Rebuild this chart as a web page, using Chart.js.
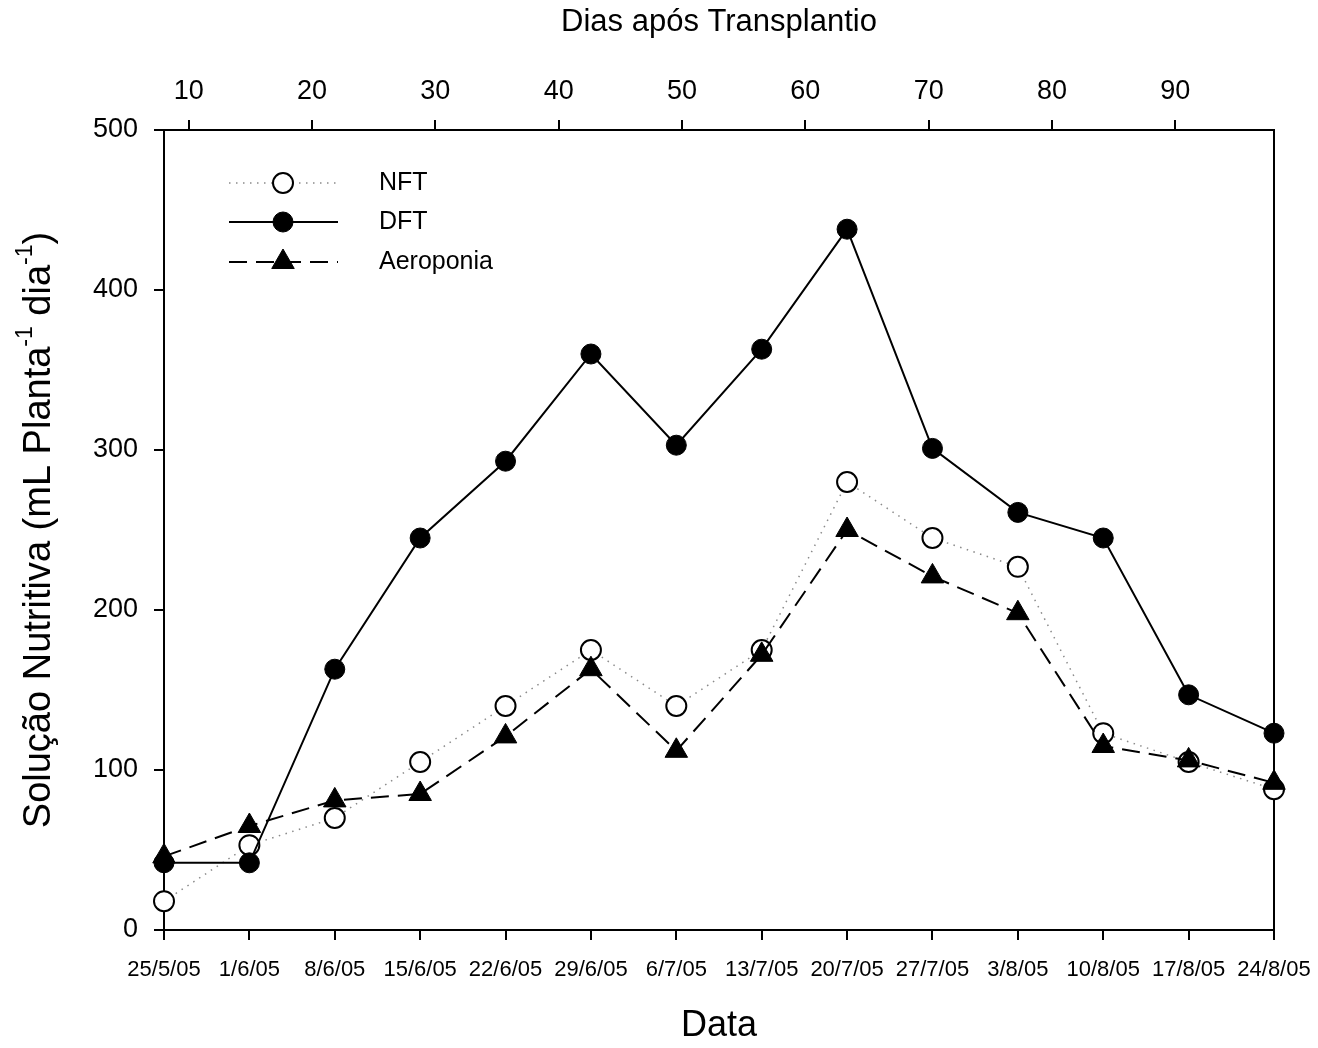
<!DOCTYPE html>
<html>
<head>
<meta charset="utf-8">
<script src="https://cdn.jsdelivr.net/npm/chart.js@4.4.0/dist/chart.umd.min.js"></script>
<style>
  html, body { margin: 0; padding: 0; background: #fff; }
</style>
</head>
<body>
<canvas id="myChart1" width="1318" height="1048"></canvas>
<script>

let myChart1 = document.getElementById("myChart1").getContext('2d');

let datas = ['25/5/05', '1/6/05', '8/6/05', '15/6/05', '22/6/05', '29/6/05', '6/7/05',
             '13/7/05', '20/7/05', '27/7/05', '3/8/05', '10/8/05', '17/8/05', '24/8/05'];
let diasTicks = [10, 20, 30, 40, 50, 60, 70, 80, 90];
let yTicks = [0, 100, 200, 300, 400, 500];

let nft = [18, 53, 70, 105, 140, 175, 140, 175, 280, 245, 227, 123, 105, 88];
let dft = [42, 42, 163, 245, 293, 360, 303, 363, 438, 301, 261, 245, 147, 123];
let aeroponia = [46, 65, 81, 85, 121, 163, 112, 172, 250, 221, 198, 115, 106, 92];

const fonte = "'Liberation Sans', Arial, sans-serif";

// legenda desenhada dentro da area do grafico
const legendaInterna = {
  id: 'legendaInterna',
  afterDatasetsDraw(chart) {
    const ctx = chart.ctx;
    const linhas = [183, 222, 262];
    chart.data.datasets.forEach((ds, i) => {
      const y = linhas[i];
      ctx.save();
      ctx.strokeStyle = ds.borderColor;
      ctx.lineWidth = ds.borderWidth;
      ctx.setLineDash(ds.borderDash || []);
      ctx.beginPath();
      ctx.moveTo(229, y);
      ctx.lineTo(338, y);
      ctx.stroke();
      ctx.setLineDash([]);
      ctx.fillStyle = ds.pointBackgroundColor;
      ctx.strokeStyle = ds.pointBorderColor;
      ctx.lineWidth = ds.pointBorderWidth;
      Chart.helpers.drawPoint(ctx, {
        pointStyle: ds.pointStyle, radius: ds.pointRadius,
        rotation: 0, borderWidth: ds.pointBorderWidth
      }, 283, y);
      ctx.fillStyle = '#000';
      ctx.font = '25px ' + fonte;
      ctx.textBaseline = 'middle';
      ctx.textAlign = 'left';
      ctx.fillText(ds.label, 379, y);
      ctx.restore();
    });
  }
};

// titulo do eixo y com expoentes
const tituloY = {
  id: 'tituloY',
  afterDraw(chart) {
    const ctx = chart.ctx;
    const a = chart.chartArea;
    const partes = [
      ['Solução Nutritiva (mL Planta', false],
      ['-1', true],
      [' dia', false],
      ['-1', true],
      [')', false]
    ];
    const fNormal = '38px ' + fonte;
    const fSup = '23px ' + fonte;
    ctx.save();
    let total = 0;
    partes.forEach(p => { ctx.font = p[1] ? fSup : fNormal; total += ctx.measureText(p[0]).width; });
    ctx.translate(40, (a.top + a.bottom) / 2);
    ctx.rotate(-Math.PI / 2);
    ctx.fillStyle = '#000';
    ctx.textBaseline = 'middle';
    ctx.textAlign = 'left';
    let x = -total / 2;
    partes.forEach(p => {
      ctx.font = p[1] ? fSup : fNormal;
      ctx.fillText(p[0], x, p[1] ? -14 : 0);
      x += ctx.measureText(p[0]).width;
    });
    ctx.restore();
  }
};

const eixo = {
  border: { display: true, color: '#000', width: 2 },
  grid: { drawOnChartArea: false, color: '#000', tickColor: '#000', tickLength: 10, lineWidth: 2 }
};

// sem folga extra para os rotulos nas pontas do eixo
const semFolga = s => { s.paddingLeft = 0; s.paddingRight = 0; };

let chart1 = new Chart(myChart1, {
  type: 'line',
  data: {
    labels: datas,
    datasets: [
      {
        label: 'NFT',
        data: nft,
        order: 3,
        borderColor: '#8a8a8a',
        borderWidth: 1.5,
        borderDash: [1.5, 5.5],
        pointStyle: 'circle',
        pointRadius: 10,
        pointBorderWidth: 2,
        pointBorderColor: '#000',
        pointBackgroundColor: '#fff'
      },
      {
        label: 'DFT',
        data: dft,
        order: 2,
        borderColor: '#000',
        borderWidth: 2,
        pointStyle: 'circle',
        pointRadius: 10,
        pointBorderWidth: 1,
        pointBorderColor: '#000',
        pointBackgroundColor: '#000'
      },
      {
        label: 'Aeroponia',
        data: aeroponia,
        order: 1,
        borderColor: '#000',
        borderWidth: 2,
        borderDash: [18, 9],
        pointStyle: 'triangle',
        pointRadius: 13,
        pointBorderWidth: 1,
        pointBorderColor: '#000',
        pointBackgroundColor: '#000'
      }
    ].map(d => Object.assign({ fill: false, tension: 0, clip: false, pointHoverRadius: d.pointRadius }, d))
  },
  options: {
    responsive: false,
    animation: false,
    layout: { padding: 0 },
    plugins: {
      legend: { display: false },
      tooltip: { enabled: false }
    },
    scales: {
      x: {
        type: 'category',
        position: 'bottom',
        offset: false,
        border: eixo.border,
        grid: Object.assign({ offset: false }, eixo.grid),
        ticks: { color: '#000', font: { size: 22, family: fonte }, maxRotation: 0, autoSkip: false, padding: 17 },
        title: { display: true, text: 'Data', color: '#000', font: { size: 36, family: fonte }, padding: 0 },
        afterFit: s => { s.height = 118; semFolga(s); }
      },
      x2: {
        type: 'linear',
        position: 'top',
        min: 8,
        max: 98,
        border: eixo.border,
        grid: eixo.grid,
        afterBuildTicks: s => { s.ticks = diasTicks.map(v => ({ value: v })); },
        ticks: { color: '#000', font: { size: 27, family: fonte }, padding: 12 },
        title: { display: true, text: 'Dias após Transplantio', color: '#000', font: { size: 31, family: fonte }, padding: { top: 4, bottom: 0 } },
        afterFit: s => { s.height = 130; semFolga(s); }
      },
      y: {
        type: 'linear',
        position: 'left',
        min: 0,
        max: 500,
        border: eixo.border,
        grid: eixo.grid,
        afterBuildTicks: s => { s.ticks = yTicks.map(v => ({ value: v })); },
        ticks: { color: '#000', font: { size: 27, family: fonte }, padding: 16 },
        afterFit: s => { s.width = 164; }
      },
      yDir: {
        type: 'linear',
        position: 'right',
        min: 0,
        max: 500,
        border: eixo.border,
        grid: { display: true, drawOnChartArea: false, drawTicks: false },
        ticks: { display: false },
        afterFit: s => { s.width = 44; }
      }
    }
  },
  plugins: [legendaInterna, tituloY]
});

</script>
</body>
</html>
